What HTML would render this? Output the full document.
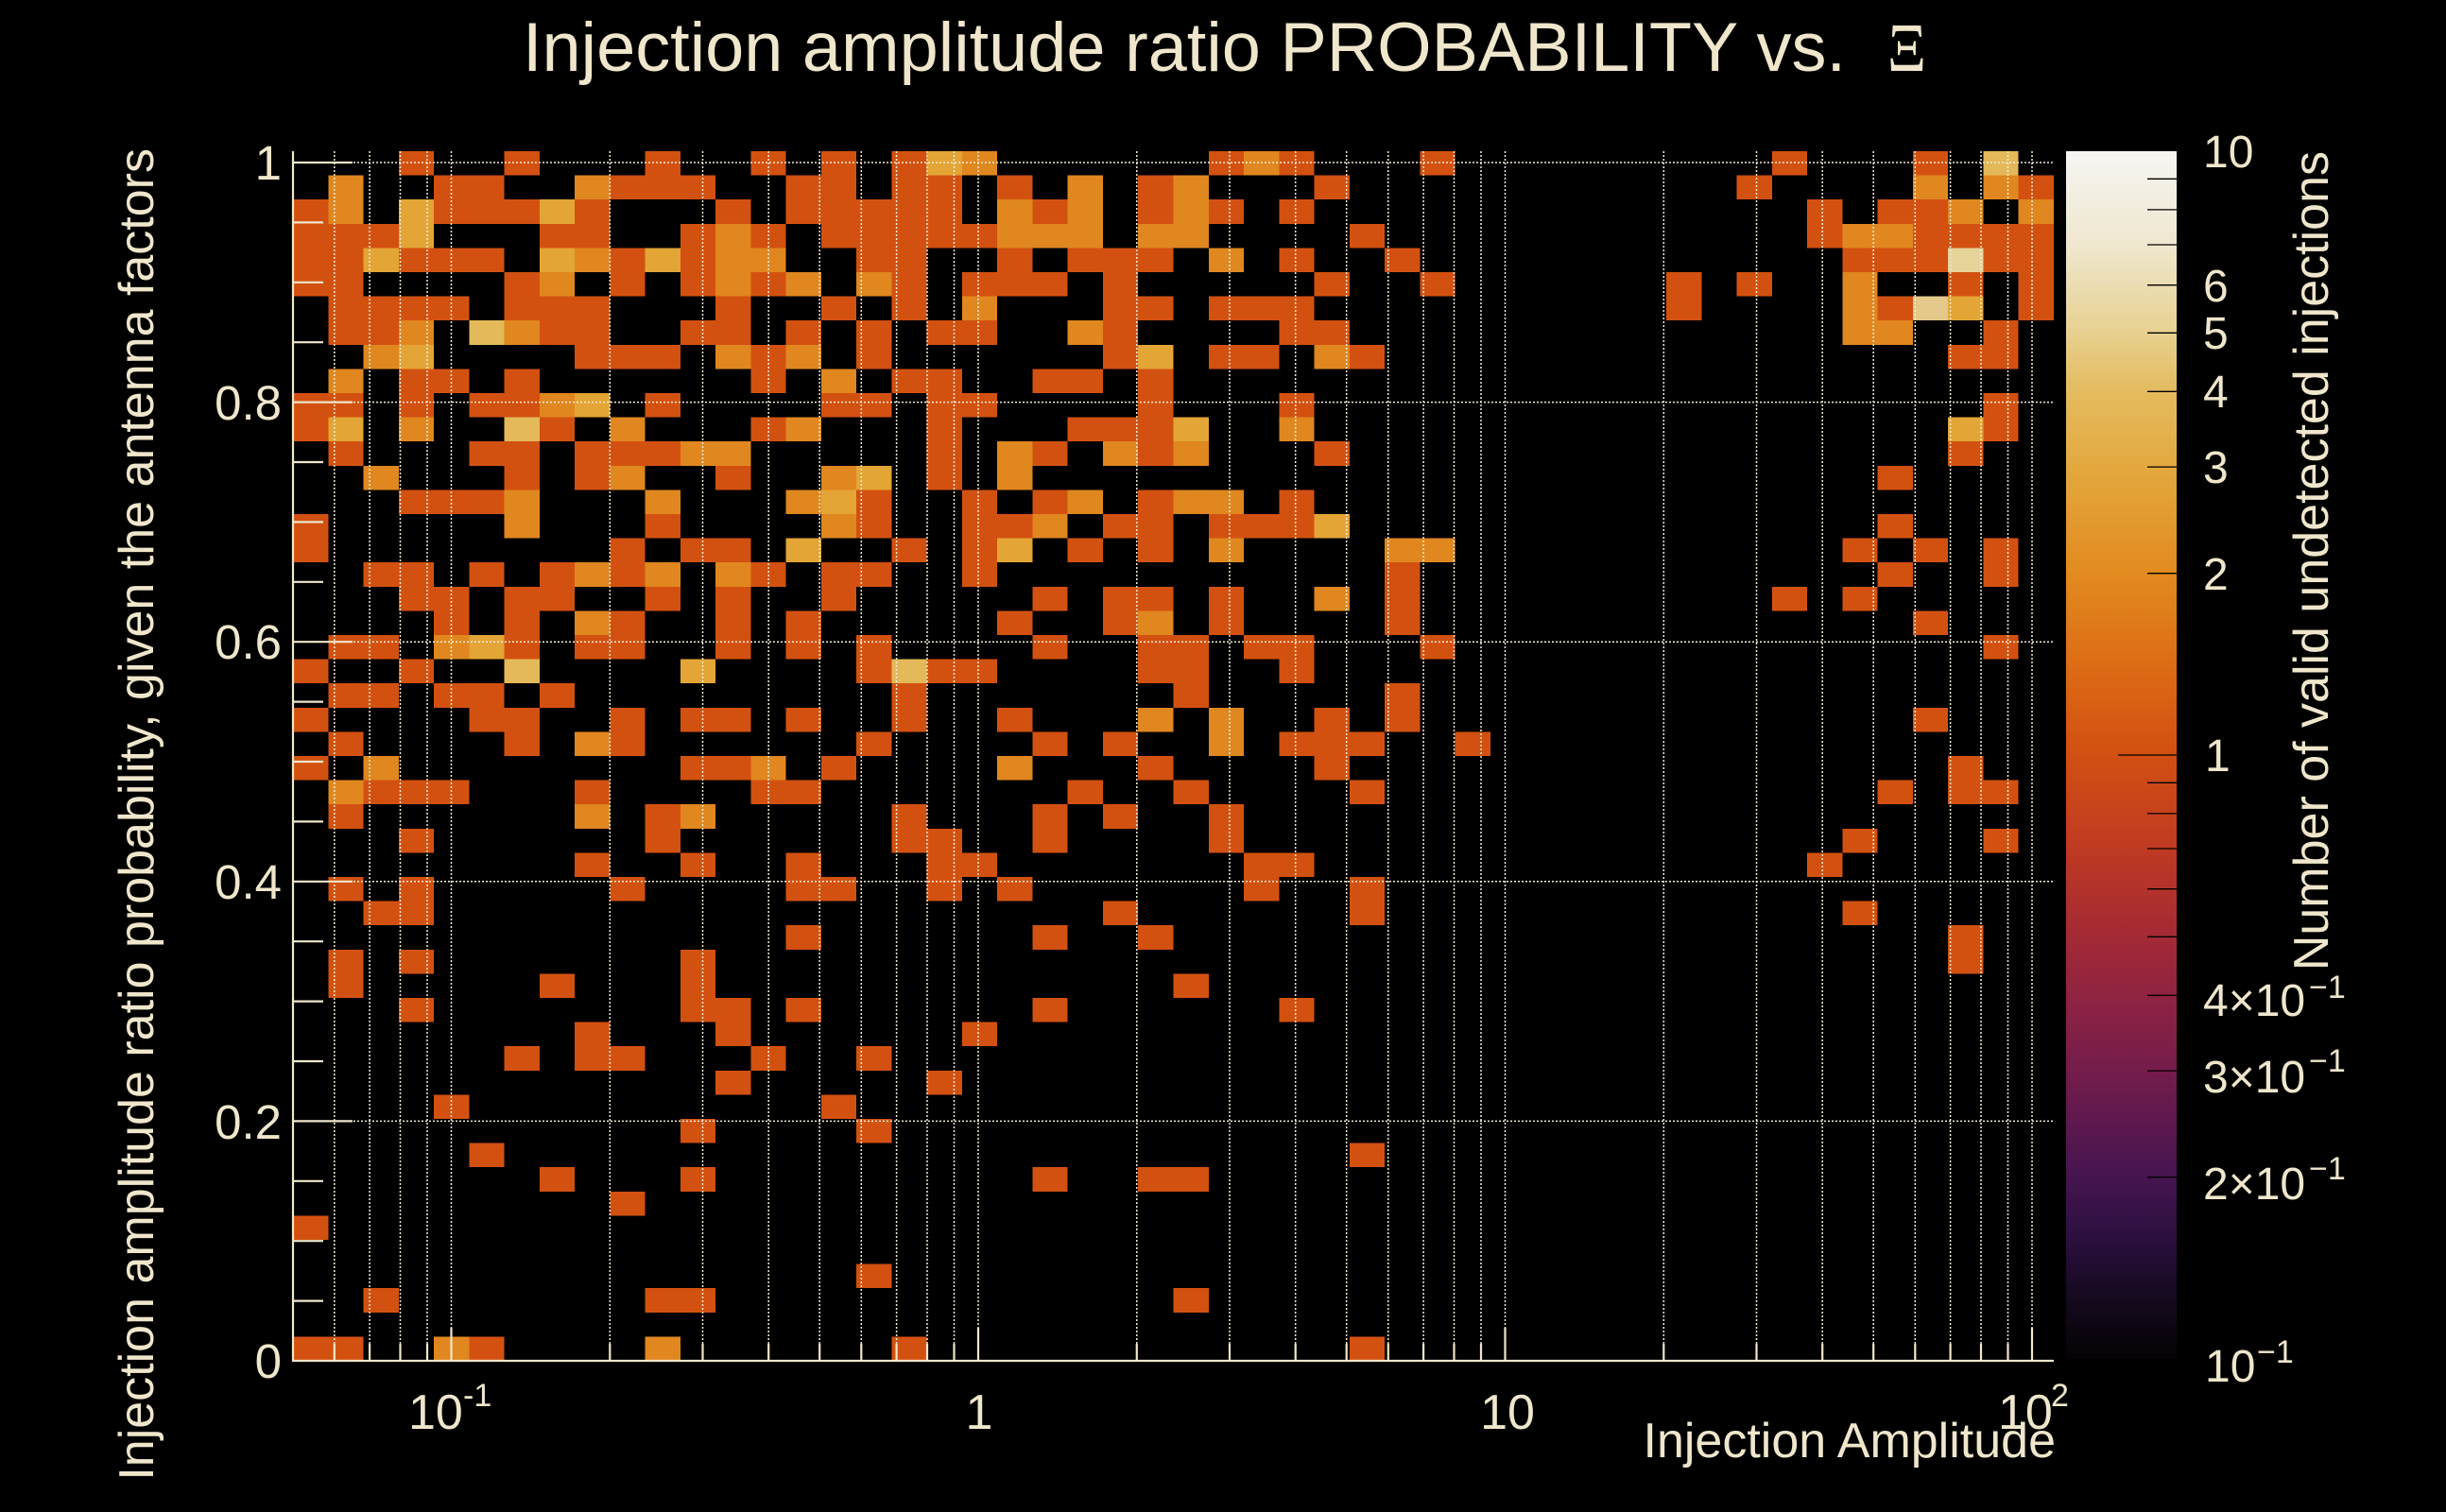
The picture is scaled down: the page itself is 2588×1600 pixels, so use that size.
<!DOCTYPE html>
<html>
<head>
<meta charset="utf-8">
<style>
html,body{margin:0;padding:0;background:#000;}
svg{display:block;}
.a{fill:#d35110}
.b{fill:#e0871f}
.c{fill:#e3a535}
.d{fill:#e3b95a}
.e{fill:#e4c98a}
.f{fill:#e6d39a}
text{font-family:"Liberation Sans",sans-serif;fill:#efe6cb;}
</style>
</head>
<body>
<svg width="2588" height="1600" viewBox="0 0 2588 1600" xmlns="http://www.w3.org/2000/svg">
<defs>
<linearGradient id="cb" x1="0" y1="0" x2="0" y2="1">
<stop offset="0" stop-color="#f6f5f2"/>
<stop offset="0.077" stop-color="#efe7cf"/>
<stop offset="0.144" stop-color="#e8d396"/>
<stop offset="0.197" stop-color="#e4bc60"/>
<stop offset="0.264" stop-color="#e3a83e"/>
<stop offset="0.351" stop-color="#e28a1f"/>
<stop offset="0.431" stop-color="#dc6a15"/>
<stop offset="0.5" stop-color="#d24f12"/>
<stop offset="0.578" stop-color="#bf3a22"/>
<stop offset="0.646" stop-color="#a52a34"/>
<stop offset="0.712" stop-color="#8a2244"/>
<stop offset="0.766" stop-color="#721c4c"/>
<stop offset="0.846" stop-color="#471550"/>
<stop offset="0.899" stop-color="#2c0f3f"/>
<stop offset="0.946" stop-color="#160a20"/>
<stop offset="1" stop-color="#050305"/>
</linearGradient>
</defs>
<rect x="0" y="0" width="2588" height="1600" fill="#000"/>

<!-- heatmap cells -->
<g transform="translate(310,160) scale(37.26,25.6)" shape-rendering="crispEdges">
<path class="a" d="M3 0h1v1h-1zM6 0h1v1h-1zM10 0h1v1h-1zM13 0h1v1h-1zM15 0h1v1h-1zM17 0h1v1h-1zM26 0h1v1h-1zM28 0h1v1h-1zM32 0h1v1h-1zM42 0h1v1h-1zM46 0h1v1h-1z
M4 1h2v1h-2zM9 1h3v1h-3zM14 1h2v1h-2zM17 1h2v1h-2zM20 1h1v1h-1zM24 1h1v1h-1zM29 1h1v1h-1zM41 1h1v1h-1zM49 1h1v1h-1z
M0 2h1v1h-1zM4 2h3v1h-3zM8 2h1v1h-1zM12 2h1v1h-1zM14 2h5v1h-5zM21 2h1v1h-1zM24 2h1v1h-1zM26 2h1v1h-1zM28 2h1v1h-1zM43 2h1v1h-1zM45 2h2v1h-2z
M0 3h3v1h-3zM7 3h2v1h-2zM11 3h1v1h-1zM13 3h1v1h-1zM15 3h5v1h-5zM30 3h1v1h-1zM43 3h1v1h-1zM46 3h4v1h-4z
M0 4h2v1h-2zM3 4h3v1h-3zM9 4h1v1h-1zM11 4h1v1h-1zM16 4h2v1h-2zM20 4h1v1h-1zM22 4h3v1h-3zM28 4h1v1h-1zM31 4h1v1h-1zM44 4h3v1h-3zM48 4h2v1h-2z
M0 5h2v1h-2zM6 5h1v1h-1zM9 5h1v1h-1zM11 5h1v1h-1zM13 5h1v1h-1zM17 5h1v1h-1zM19 5h3v1h-3zM23 5h1v1h-1zM29 5h1v1h-1zM32 5h1v1h-1zM39 5h1v1h-1zM41 5h1v1h-1zM47 5h1v1h-1zM49 5h1v1h-1z
M1 6h4v1h-4zM6 6h3v1h-3zM12 6h1v1h-1zM15 6h1v1h-1zM17 6h1v1h-1zM23 6h2v1h-2zM26 6h3v1h-3zM39 6h1v1h-1zM45 6h1v1h-1zM49 6h1v1h-1z
M1 7h2v1h-2zM7 7h2v1h-2zM11 7h2v1h-2zM14 7h1v1h-1zM16 7h1v1h-1zM18 7h2v1h-2zM23 7h1v1h-1zM28 7h2v1h-2zM48 7h1v1h-1z
M8 8h3v1h-3zM13 8h1v1h-1zM16 8h1v1h-1zM23 8h1v1h-1zM26 8h2v1h-2zM30 8h1v1h-1zM47 8h2v1h-2z
M3 9h2v1h-2zM6 9h1v1h-1zM13 9h1v1h-1zM17 9h2v1h-2zM21 9h2v1h-2zM24 9h1v1h-1z
M0 10h2v1h-2zM3 10h1v1h-1zM5 10h2v1h-2zM10 10h1v1h-1zM15 10h2v1h-2zM18 10h2v1h-2zM24 10h1v1h-1zM28 10h1v1h-1zM48 10h1v1h-1z
M0 11h1v1h-1zM7 11h1v1h-1zM13 11h1v1h-1zM18 11h1v1h-1zM22 11h3v1h-3zM48 11h1v1h-1z
M1 12h1v1h-1zM5 12h2v1h-2zM8 12h3v1h-3zM18 12h1v1h-1zM21 12h1v1h-1zM24 12h1v1h-1zM29 12h1v1h-1zM47 12h1v1h-1z
M6 13h1v1h-1zM8 13h1v1h-1zM12 13h1v1h-1zM18 13h1v1h-1zM45 13h1v1h-1z
M3 14h3v1h-3zM16 14h1v1h-1zM19 14h1v1h-1zM21 14h1v1h-1zM24 14h1v1h-1zM28 14h1v1h-1z
M0 15h1v1h-1zM10 15h1v1h-1zM16 15h1v1h-1zM19 15h2v1h-2zM23 15h2v1h-2zM26 15h3v1h-3zM45 15h1v1h-1z
M0 16h1v1h-1zM9 16h1v1h-1zM11 16h2v1h-2zM17 16h1v1h-1zM19 16h1v1h-1zM22 16h1v1h-1zM24 16h1v1h-1zM44 16h1v1h-1zM46 16h1v1h-1zM48 16h1v1h-1z
M2 17h2v1h-2zM5 17h1v1h-1zM7 17h1v1h-1zM9 17h1v1h-1zM13 17h1v1h-1zM15 17h2v1h-2zM19 17h1v1h-1zM31 17h1v1h-1zM45 17h1v1h-1zM48 17h1v1h-1z
M3 18h2v1h-2zM6 18h2v1h-2zM10 18h1v1h-1zM12 18h1v1h-1zM15 18h1v1h-1zM21 18h1v1h-1zM23 18h2v1h-2zM26 18h1v1h-1zM31 18h1v1h-1zM42 18h1v1h-1zM44 18h1v1h-1z
M4 19h1v1h-1zM6 19h1v1h-1zM9 19h1v1h-1zM12 19h1v1h-1zM14 19h1v1h-1zM20 19h1v1h-1zM23 19h1v1h-1zM26 19h1v1h-1zM31 19h1v1h-1zM46 19h1v1h-1z
M1 20h2v1h-2zM6 20h1v1h-1zM8 20h2v1h-2zM12 20h1v1h-1zM14 20h1v1h-1zM16 20h1v1h-1zM21 20h1v1h-1zM24 20h2v1h-2zM27 20h2v1h-2zM32 20h1v1h-1zM48 20h1v1h-1z
M0 21h1v1h-1zM3 21h1v1h-1zM16 21h1v1h-1zM18 21h2v1h-2zM24 21h2v1h-2zM28 21h1v1h-1z
M1 22h2v1h-2zM4 22h2v1h-2zM7 22h1v1h-1zM17 22h1v1h-1zM25 22h1v1h-1zM31 22h1v1h-1z
M0 23h1v1h-1zM5 23h2v1h-2zM9 23h1v1h-1zM11 23h2v1h-2zM14 23h1v1h-1zM17 23h1v1h-1zM20 23h1v1h-1zM29 23h1v1h-1zM31 23h1v1h-1zM46 23h1v1h-1z
M1 24h1v1h-1zM6 24h1v1h-1zM9 24h1v1h-1zM16 24h1v1h-1zM21 24h1v1h-1zM23 24h1v1h-1zM28 24h3v1h-3zM33 24h1v1h-1z
M0 25h1v1h-1zM11 25h2v1h-2zM15 25h1v1h-1zM24 25h1v1h-1zM29 25h1v1h-1zM47 25h1v1h-1z
M2 26h3v1h-3zM8 26h1v1h-1zM13 26h2v1h-2zM22 26h1v1h-1zM25 26h1v1h-1zM30 26h1v1h-1zM45 26h1v1h-1zM47 26h2v1h-2z
M1 27h1v1h-1zM10 27h1v1h-1zM17 27h1v1h-1zM21 27h1v1h-1zM23 27h1v1h-1zM26 27h1v1h-1z
M3 28h1v1h-1zM10 28h1v1h-1zM17 28h2v1h-2zM21 28h1v1h-1zM26 28h1v1h-1zM44 28h1v1h-1zM48 28h1v1h-1z
M8 29h1v1h-1zM11 29h1v1h-1zM14 29h1v1h-1zM18 29h2v1h-2zM27 29h2v1h-2zM43 29h1v1h-1z
M1 30h1v1h-1zM3 30h1v1h-1zM9 30h1v1h-1zM14 30h2v1h-2zM18 30h1v1h-1zM20 30h1v1h-1zM27 30h1v1h-1zM30 30h1v1h-1z
M2 31h2v1h-2zM23 31h1v1h-1zM30 31h1v1h-1zM44 31h1v1h-1z
M14 32h1v1h-1zM21 32h1v1h-1zM24 32h1v1h-1zM47 32h1v1h-1z
M1 33h1v1h-1zM3 33h1v1h-1zM11 33h1v1h-1zM47 33h1v1h-1z
M1 34h1v1h-1zM7 34h1v1h-1zM11 34h1v1h-1zM25 34h1v1h-1z
M3 35h1v1h-1zM11 35h2v1h-2zM14 35h1v1h-1zM21 35h1v1h-1zM28 35h1v1h-1z
M8 36h1v1h-1zM12 36h1v1h-1zM19 36h1v1h-1z
M6 37h1v1h-1zM8 37h2v1h-2zM13 37h1v1h-1zM16 37h1v1h-1z
M12 38h1v1h-1zM18 38h1v1h-1z
M4 39h1v1h-1zM15 39h1v1h-1z
M11 40h1v1h-1zM16 40h1v1h-1z
M5 41h1v1h-1zM30 41h1v1h-1z
M7 42h1v1h-1zM11 42h1v1h-1zM21 42h1v1h-1zM24 42h2v1h-2z
M9 43h1v1h-1z
M0 44h1v1h-1z
M16 46h1v1h-1z
M2 47h1v1h-1zM10 47h2v1h-2zM25 47h1v1h-1z
M0 49h2v1h-2zM5 49h1v1h-1zM17 49h1v1h-1zM30 49h1v1h-1z"/>
<path class="b" d="M19 0h1v1h-1zM27 0h1v1h-1z
M1 1h1v1h-1zM8 1h1v1h-1zM22 1h1v1h-1zM25 1h1v1h-1zM46 1h1v1h-1zM48 1h1v1h-1z
M1 2h1v1h-1zM20 2h1v1h-1zM22 2h1v1h-1zM25 2h1v1h-1zM47 2h1v1h-1zM49 2h1v1h-1z
M12 3h1v1h-1zM20 3h3v1h-3zM24 3h2v1h-2zM44 3h2v1h-2z
M8 4h1v1h-1zM12 4h2v1h-2zM26 4h1v1h-1z
M7 5h1v1h-1zM12 5h1v1h-1zM14 5h1v1h-1zM16 5h1v1h-1zM44 5h1v1h-1z
M19 6h1v1h-1zM44 6h1v1h-1z
M3 7h1v1h-1zM6 7h1v1h-1zM22 7h1v1h-1zM44 7h2v1h-2z
M2 8h1v1h-1zM12 8h1v1h-1zM14 8h1v1h-1zM29 8h1v1h-1z
M1 9h1v1h-1zM15 9h1v1h-1z
M7 10h1v1h-1z
M3 11h1v1h-1zM9 11h1v1h-1zM14 11h1v1h-1zM28 11h1v1h-1z
M11 12h2v1h-2zM20 12h1v1h-1zM23 12h1v1h-1zM25 12h1v1h-1z
M2 13h1v1h-1zM9 13h1v1h-1zM15 13h1v1h-1zM20 13h1v1h-1z
M6 14h1v1h-1zM10 14h1v1h-1zM14 14h1v1h-1zM22 14h1v1h-1zM25 14h2v1h-2z
M6 15h1v1h-1zM15 15h1v1h-1zM21 15h1v1h-1z
M26 16h1v1h-1zM31 16h2v1h-2z
M8 17h1v1h-1zM10 17h1v1h-1zM12 17h1v1h-1z
M29 18h1v1h-1z
M8 19h1v1h-1zM24 19h1v1h-1z
M4 20h1v1h-1z
M24 23h1v1h-1zM26 23h1v1h-1z
M8 24h1v1h-1zM26 24h1v1h-1z
M2 25h1v1h-1zM13 25h1v1h-1zM20 25h1v1h-1z
M1 26h1v1h-1z
M8 27h1v1h-1zM11 27h1v1h-1z
M4 49h1v1h-1zM10 49h1v1h-1z"/>
<path class="c" d="M18 0h1v1h-1zM3 2h1v1h-1zM7 2h1v1h-1zM3 3h1v1h-1zM2 4h1v1h-1zM7 4h1v1h-1zM10 4h1v1h-1zM47 6h1v1h-1zM3 8h1v1h-1zM24 8h1v1h-1zM8 10h1v1h-1zM1 11h1v1h-1zM25 11h1v1h-1zM47 11h1v1h-1zM16 13h1v1h-1zM15 14h1v1h-1zM29 15h1v1h-1zM14 16h1v1h-1zM20 16h1v1h-1zM5 20h1v1h-1zM11 21h1v1h-1z"/>
<path class="d" d="M48 0h1v1h-1zM5 7h1v1h-1zM6 11h1v1h-1zM6 21h1v1h-1zM17 21h1v1h-1z"/>
<path class="e" d="M46 6h1v1h-1z"/>
<path class="f" d="M47 4h1v1h-1z"/>
</g>

<!-- gridlines -->
<g stroke="#f3ecd6" stroke-width="1.5" stroke-dasharray="2 2" fill="none">
<path d="M353.8 160V1440M391.1 160V1440M423.5 160V1440M452 160V1440M477.5 160V1440M645.3 160V1440M743.5 160V1440M813.2 160V1440M867.2 160V1440M911.3 160V1440M948.6 160V1440M981 160V1440M1009.5 160V1440M1035 160V1440M1202.8 160V1440M1301 160V1440M1370.7 160V1440M1424.7 160V1440M1468.8 160V1440M1506.1 160V1440M1538.5 160V1440M1567 160V1440M1592.5 160V1440M1760.3 160V1440M1858.5 160V1440M1928.2 160V1440M1982.2 160V1440M2026.3 160V1440M2063.6 160V1440M2096 160V1440M2124.5 160V1440M2150 160V1440"/>
<path d="M310 172H2173M310 425.6H2173M310 679.2H2173M310 932.8H2173M310 1186.4H2173"/>
</g>

<!-- axes -->
<g stroke="#efe6cb" stroke-width="2.2" fill="none">
<path d="M310 160V1441M309 1440H2173"/>
<!-- y major ticks -->
<path d="M310 172H373M310 425.6H373M310 679.2H373M310 932.8H373M310 1186.4H373"/>
<!-- y minor ticks -->
<path d="M310 1376.6H342M310 1313.2H342M310 1249.8H342M310 1123H342M310 1059.6H342M310 996.2H342M310 869.4H342M310 806H342M310 742.6H342M310 615.8H342M310 552.4H342M310 489H342M310 362.2H342M310 298.8H342M310 235.4H342"/>
<!-- x major ticks -->
<path d="M477.5 1440V1405M1035 1440V1405M1592.5 1440V1405M2150 1440V1405"/>
<!-- x minor ticks -->
<path d="M353.8 1440V1422M391.1 1440V1422M423.5 1440V1422M452 1440V1422M645.3 1440V1422M743.5 1440V1422M813.2 1440V1422M867.2 1440V1422M911.3 1440V1422M948.6 1440V1422M981 1440V1422M1009.5 1440V1422M1202.8 1440V1422M1301 1440V1422M1370.7 1440V1422M1424.7 1440V1422M1468.8 1440V1422M1506.1 1440V1422M1538.5 1440V1422M1567 1440V1422M1760.3 1440V1422M1858.5 1440V1422M1928.2 1440V1422M1982.2 1440V1422M2026.3 1440V1422M2063.6 1440V1422M2096 1440V1422M2124.5 1440V1422"/>
</g>

<!-- colorbar -->
<rect x="2186" y="160" width="117" height="1278" fill="url(#cb)"/>
<g stroke="#000" stroke-width="1.3">
<path d="M2272 189.3H2303M2272 221.9H2303M2272 259H2303M2272 301.7H2303M2272 352.3H2303M2272 414.3H2303M2272 494.1H2303M2272 606.7H2303M2241 799H2303M2272 828.3H2303M2272 860.9H2303M2272 898H2303M2272 940.7H2303M2272 991.3H2303M2272 1053.3H2303M2272 1133.1H2303M2272 1245.7H2303"/>
</g>

<!-- title -->
<text x="553" y="75" font-size="73" textLength="1400" lengthAdjust="spacingAndGlyphs">Injection amplitude ratio PROBABILITY vs.</text>
<text x="1997" y="75" font-size="73" style="font-family:'Liberation Serif','DejaVu Serif',serif" textLength="41" lengthAdjust="spacingAndGlyphs">Ξ</text>

<!-- y tick labels -->
<g font-size="51" text-anchor="end">
<text x="298" y="190">1</text>
<text x="298" y="444">0.8</text>
<text x="298" y="697">0.6</text>
<text x="298" y="951">0.4</text>
<text x="298" y="1205">0.2</text>
<text x="298" y="1458">0</text>
</g>

<!-- x tick labels -->
<g font-size="52">
<text x="432" y="1512">10</text>
<text x="490" y="1488" font-size="34">-1</text>
<text x="1036" y="1512" text-anchor="middle">1</text>
<text x="1595" y="1512" text-anchor="middle">10</text>
<text x="2114" y="1512">10</text>
<text x="2170" y="1488" font-size="34">2</text>
</g>

<!-- axis titles -->
<text x="2175" y="1542" font-size="52" text-anchor="end">Injection Amplitude</text>
<text transform="translate(162,157) rotate(-90)" font-size="52" text-anchor="end">Injection amplitude ratio probability, given the antenna factors</text>

<!-- colorbar labels -->
<g font-size="48">
<text x="2331" y="177">10</text>
<text x="2331" y="319">6</text>
<text x="2331" y="369">5</text>
<text x="2331" y="431">4</text>
<text x="2331" y="511">3</text>
<text x="2331" y="624">2</text>
<text x="2333" y="816">1</text>
<text x="2331" y="1075">4×10</text>
<text x="2443" y="1056" font-size="34">−1</text>
<text x="2331" y="1156">3×10</text>
<text x="2443" y="1134" font-size="34">−1</text>
<text x="2331" y="1269">2×10</text>
<text x="2443" y="1248" font-size="34">−1</text>
<text x="2333" y="1462">10</text>
<text x="2388" y="1442" font-size="34">−1</text>
</g>
<text transform="translate(2463,160) rotate(-90)" font-size="52" text-anchor="end">Number of valid undetected injections</text>
</svg>
</body>
</html>
